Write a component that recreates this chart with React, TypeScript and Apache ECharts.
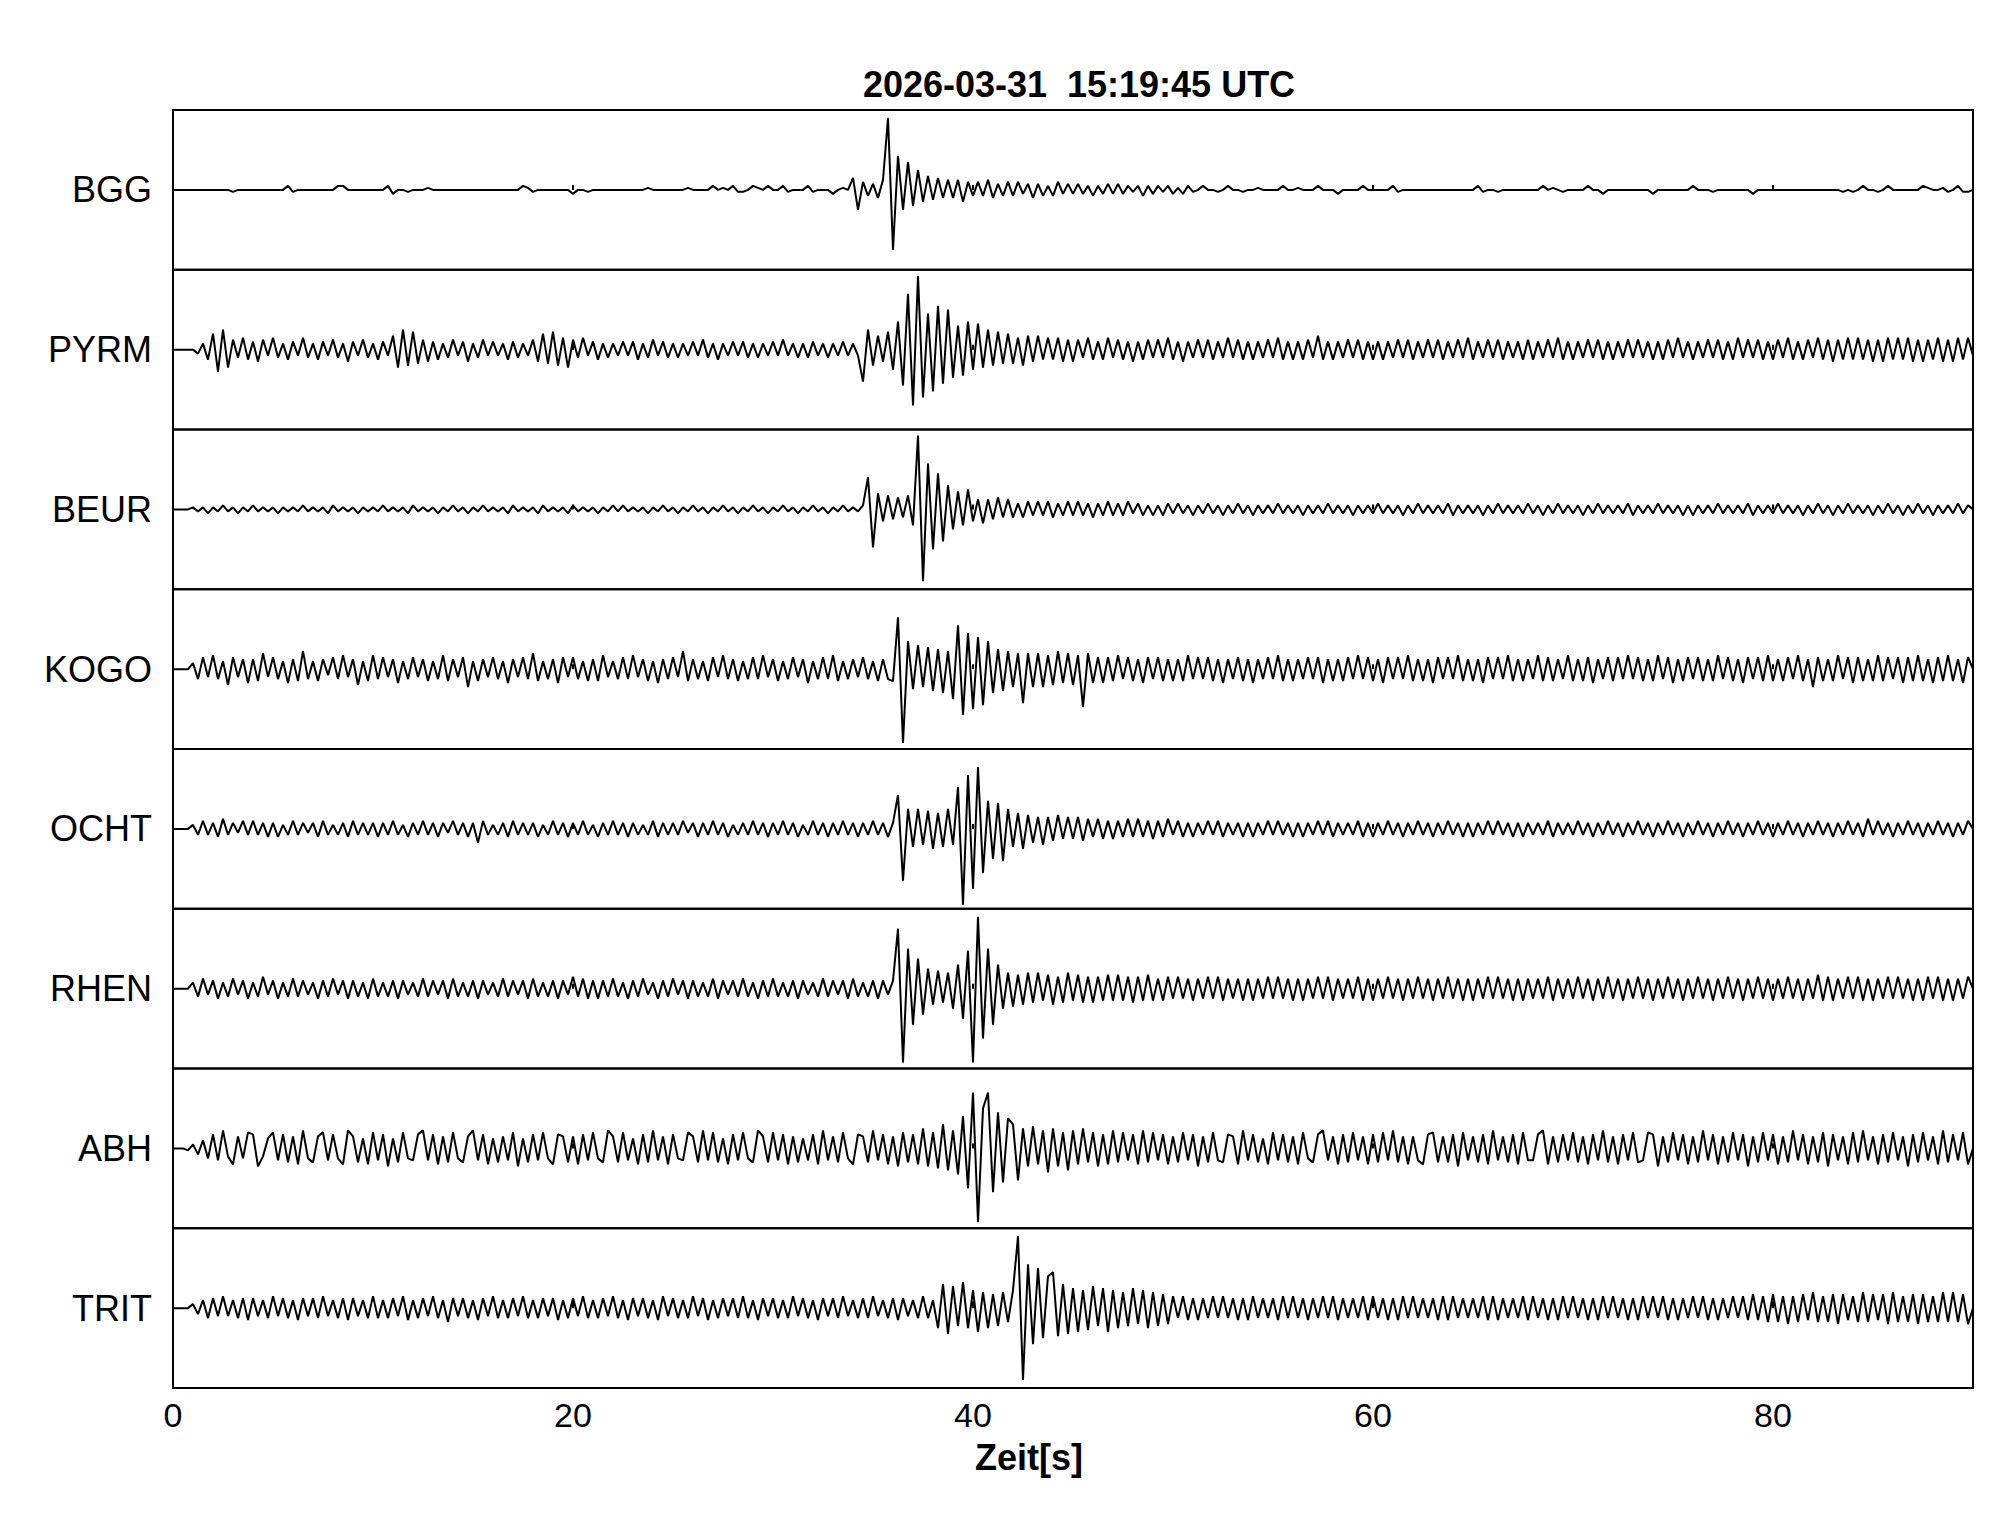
import React, { useEffect, useRef } from "react";
import * as echarts from "echarts";

// Station names (top to bottom)
const STATIONS = ["BGG", "PYRM", "BEUR", "KOGO", "OCHT", "RHEN", "ABH", "TRIT"];
const TITLE = "2026-03-31\u00a0\u00a015:19:45 UTC";
const X_NAME = "Zeit[s]";
const X_MIN = 0;
const X_MAX = 90;
const X_STEP = 20;
// seconds between samples of the traces below
const SAMPLE_STEP = 0.25;

// Trace amplitudes (relative units, panel half-height = 40), one sample every 0.25 s
const BGG = [
  0,0,0,0, 0,0,0,0, 0,0,0,0, -1,0,0,0, 0,0,0,0, 0,0,0,2, -1,0,0,0, 0,0,0,0, 0,2,2,0, 0,0,0,0,
  0,0,0,2, -2,0,0,-1, 0,0,0,1, 0,0,0,0, 0,0,0,0, 0,0,0,0, 0,0,0,0, 0,0,2,1, -1,0,0,0, 0,0,0,0,
  -2,0,0,-1, 0,0,0,0, 0,0,0,0, 0,0,0,1, 0,0,0,0, 0,0,0,1, 0,0,0,0, 2,0,1,0, 2,-1,-1,0, 2,1,0,2,
  0,0,2,-1, 0,0,0,2, -1,0,0,0, -2,0,1,0, 6,-10,4,-3, 3,-4,5,36, -30,17,-10,14, -8,10,-6,7, -5,6,-4,5, -4,5,-6,4,
  -3,4,-3,5, -4,3,-3,4, -3,4,-2,3, -4,3,-3,2, -3,4,-2,3, -2,3,-2,2, -3,2,-2,3, -2,3,-2,2, -1,2,-3,2, -2,2,-1,2,
  -2,1,-2,2, -1,0,2,0, 0,-1,0,2, 0,0,-1,0, 0,1,0,0, 0,0,2,0, 0,1,0,0, 0,2,0,0, 0,-2,0,0, 0,0,2,0,
  0,0,0,0, 2,-1,0,0, 0,0,0,0, 0,0,0,0, 0,0,0,0, 0,2,-1,0, 0,-1,0,0, 0,0,0,0, 0,0,2,0, 1,0,-1,0,
  0,0,0,2, 0,0,-2,0, 0,0,0,0, 0,0,0,0, -2,0,0,0, 0,0,0,0, 2,0,0,0, -1,0,0,0, 0,0,0,0, -2,0,0,0,
  0,0,0,0, 0,0,0,0, 0,0,0,0, 0,0,-1,0, -1,0,2,0, 0,-1,0,2, 0,0,0,0, 0,0,2,1, 0,0,1,-1, 0,2,-1,-1,
  0,
];

const PYRM = [
  0,0,0,0, 0,-2,3,-5, 8,-11,10,-9, 5,-4,6,-5, 4,-6,5,-3, 6,-4,3,-5, 4,-3,6,-4, 3,-5,4,-3, 5,-4,3,-6, 4,-3,5,-4,
  3,-5,4,-3, 7,-9,10,-8, 9,-7,5,-6, 4,-5,3,-4, 5,-3,4,-6, 3,-4,5,-3, 4,-3,3,-5, 4,-4,3,-3, 5,-6,8,-7, 9,-8,6,-9,
  5,-4,6,-3, 4,-5,3,-4, 3,-3,4,-3, 4,-5,3,-4, 5,-3,4,-4, 3,-4,3,-3, 4,-3,5,-4, 3,-5,3,-3, 4,-3,4,-4, 3,-4,3,-3,
  4,-3,5,-3, 3,-4,3,-4, 4,-3,3,-4, 3,-3,4,-3, 3,-3,-16,10, -8,7,-6,9, -10,14,-18,28, -28,37,-24,18, -21,22,-17,20, -14,12,-13,14,
  -10,13,-9,10, -8,9,-7,8, -7,6,-8,7, -6,7,-5,6, -5,6,-6,5, -6,5,-4,6, -5,4,-5,6, -4,5,-5,4, -6,4,-5,5, -4,5,-4,6,
  -5,4,-6,4, -4,5,-4,5, -5,4,-4,6, -4,5,-5,4, -5,4,-4,5, -4,6,-5,4, -5,4,-5,5, -4,7,-5,4, -5,4,-4,5, -4,5,-5,4,
  -5,4,-5,4, -4,5,-4,5, -5,4,-4,5, -4,5,-5,4, -4,5,-4,6, -5,4,-4,5, -4,5,-5,4, -4,4,-5,5, -5,4,-4,5, -4,6,-5,4,
  -5,4,-4,5, -4,5,-5,4, -5,4,-4,5, -4,5,-4,4, -5,4,-5,5, -4,6,-4,4, -5,4,-4,5, -4,5,-5,4, -5,6,-4,5, -4,5,-5,4,
  -5,5,-4,6, -5,4,-5,5, -4,6,-5,5, -6,5,-5,6, -5,6,-5,5, -6,5,-6,6, -5,6,-5,6, -6,5,-6,5, -5,6,-6,5, -6,6,-5,6,
  -3,
];

const BEUR = [
  0,0,0,0, 1,-1,1,-2, 1,-1,2,-1, 1,-2,1,-1, 2,-1,1,-1, 1,-2,1,-1, 1,-1,2,-1, 1,-1,1,-2, 2,-1,1,-1, 1,-2,1,-1,
  1,-1,2,-1, 1,-1,1,-2, 2,-1,1,-1, 1,-2,1,-1, 2,-1,1,-2, 1,-1,2,-1, 1,-1,1,-2, 2,-1,1,-1, 1,-2,2,-1, 1,-1,1,-2,
  2,-1,1,-1, 1,-2,1,-1, 2,-1,2,-1, 1,-1,1,-2, 1,-1,2,-1, 1,-2,1,-1, 2,-1,1,-2, 1,-1,2,-1, 1,-2,1,-1, 2,-1,1,-2,
  1,-1,2,-1, 1,-2,1,-1, 2,-1,1,-2, 1,-1,2,-1, 1,-1,2,16, -19,8,-6,7, -5,6,-4,7, -8,37,-36,23, -20,18,-16,12, -10,9,-8,10,
  -6,5,-7,5, -5,6,-4,5, -4,3,-4,4, -3,4,-3,4, -4,3,-3,4, -3,4,-3,3, -4,3,-3,4, -3,3,-3,4, -2,3,-3,2, -3,2,-3,3,
  -2,3,-2,2, -3,2,-2,3, -2,2,-3,2, -2,3,-2,2, -3,2,-2,2, -2,3,-2,2, -2,2,-3,2, -2,2,-2,3, -2,2,-2,2, -3,2,-2,2,
  -2,3,-2,2, -2,2,-3,2, -2,3,-2,2, -2,2,-2,3, -3,2,-2,2, -2,2,-3,2, -2,3,-2,2, -2,2,-2,3, -2,2,-3,2, -2,3,-2,2,
  -2,2,-3,2, -2,3,-2,2, -2,2,-2,3, -3,2,-2,2, -2,3,-2,2, -2,2,-3,2, -3,2,-2,2, -2,3,-2,2, -2,2,-2,3, -3,2,-2,2,
  -2,3,-2,2, -2,2,-3,2, -2,3,-2,2, -3,2,-2,3, -2,2,-2,2, -3,2,-2,3, -2,2,-3,2, -2,3,-2,2, -3,2,-2,2, -2,3,-2,2,
  0,
];

const KOGO = [
  0,0,0,0, 3,-5,6,-4, 7,-5,4,-8, 6,-4,5,-7, 5,-6,8,-4, 6,-5,4,-7, 5,-6,9,-5, 4,-6,5,-3, 6,-5,7,-4, 5,-8,4,-6,
  7,-5,6,-4, 5,-7,4,-5, 6,-4,5,-6, 4,-5,7,-6, 5,-4,6,-9, 4,-6,5,-4, 6,-5,4,-7, 5,-4,6,-5, 8,-6,4,-5, 5,-7,6,-4,
  6,-5,4,-6, 5,-6,7,-4, 4,-5,6,-5, 7,-4,5,-6, 4,-7,5,-5, 6,-4,9,-6, 5,-5,4,-6, 6,-4,7,-5, 5,-6,4,-5, 6,-5,7,-4,
  5,-6,4,-5, 6,-4,5,-7, 4,-5,6,-5, 7,-6,4,-5, 5,-4,6,-5, 4,-6,5,-5, -6,26,-37,14, -10,12,-9,11, -11,10,-12,9, -15,22,-23,18,
  -20,16,-18,14, -12,10,-11,9, -9,8,-17,8, -9,8,-9,7, -8,9,-7,8, -8,7,-19,8, -7,6,-7,6, -6,7,-5,6, -6,5,-7,6, -5,6,-6,5,
  -6,5,-6,7, -5,6,-5,6, -6,5,-7,5, -5,6,-6,5, -7,5,-5,6, -5,7,-6,5, -6,5,-5,6, -5,6,-7,5, -6,5,-6,6, -5,7,-5,6,
  -6,5,-7,6, -5,6,-5,7, -6,5,-6,5, -7,6,-5,6, -5,7,-6,5, -6,5,-7,6, -5,6,-5,7, -6,5,-6,5, -5,7,-6,6, -6,5,-5,7,
  -6,5,-6,6, -7,5,-5,6, -6,6,-5,7, -5,6,-6,5, -6,7,-5,6, -7,5,-6,6, -5,6,-6,5, -6,7,-5,6, -6,5,-7,6, -5,6,-6,7,
  -6,5,-6,6, -5,7,-6,5, -9,6,-6,5, -6,7,-5,6, -7,6,-6,5, -6,7,-6,6, -5,6,-7,6, -6,7,-6,5, -7,6,-6,7, -6,5,-7,6,
  0,
];

const OCHT = [
  0,0,0,0, 2,-3,4,-3, 3,-4,5,-3, 3,-2,4,-3, 4,-3,3,-4, 3,-4,2,-3, 4,-3,3,-2, 3,-4,4,-3, 2,-3,3,-4, 4,-3,3,-3,
  3,-4,3,-3, 4,-3,2,-4, 3,-3,4,-3, 3,-4,3,-2, 4,-3,3,-4, 3,-7,4,-3, 2,-3,3,-4, 4,-3,3,-3, 3,-4,2,-3, 4,-3,3,-4,
  3,-3,4,-3, 2,-4,3,-3, 4,-3,3,-4, 3,-3,2,-3, 4,-4,3,-3, 3,-3,4,-2, 3,-4,3,-3, 4,-3,3,-4, 2,-3,3,-3, 4,-3,3,-4,
  3,-3,4,-3, 3,-4,2,-3, 4,-3,3,-4, 3,-3,4,-3, 3,-4,3,-3, 4,-3,3,-4, 3,17,-26,10, -9,10,-8,9, -10,8,-9,10, -8,21,-38,27,
  -30,31,-22,14, -15,13,-16,10, -9,8,-10,7, -7,6,-8,6, -6,7,-5,6, -5,6,-6,5, -4,5,-5,4, -5,4,-4,5, -4,5,-4,4, -5,4,-4,5,
  -3,4,-4,3, -4,3,-3,4, -3,4,-4,3, -3,3,-4,3, -4,3,-3,4, -3,4,-3,3, -4,3,-4,3, -3,4,-3,4, -4,3,-3,3, -3,4,-4,3,
  -4,3,-3,4, -3,3,-4,3, -3,4,-3,3, -4,3,-3,4, -3,3,-4,3, -4,3,-3,4, -3,4,-3,3, -4,3,-4,3, -3,3,-3,4, -4,3,-3,3,
  -3,4,-3,3, -4,3,-3,4, -3,3,-4,3, -3,4,-3,3, -4,3,-3,4, -3,3,-4,3, -3,4,-3,3, -4,3,-3,4, -3,3,-4,3, -3,4,-3,3,
  -4,3,-3,4, -3,3,-4,3, -3,4,-3,3, -4,3,-3,4, -3,3,-4,5, -3,4,-3,3, -4,3,-3,4, -3,3,-4,3, -3,4,-3,3, -4,3,-3,4,
  0,
];

const RHEN = [
  0,0,0,0, 3,-4,5,-3, 4,-5,3,-4, 5,-3,4,-5, 3,-4,6,-3, 4,-5,3,-4, 5,-4,4,-3, 3,-5,4,-4, 5,-3,4,-5, 4,-4,3,-5,
  5,-4,3,-4, 4,-5,4,-3, 3,-4,5,-4, 4,-3,4,-5, 5,-4,3,-4, 4,-5,4,-3, 3,-4,5,-4, 4,-3,4,-5, 5,-4,3,-4, 4,-5,4,-3,
  6,-4,5,-5, 4,-5,4,-4, 5,-4,3,-5, 4,-4,5,-3, 3,-5,4,-4, 5,-3,4,-5, 4,-4,3,-4, 5,-5,4,-3, 4,-4,5,-4, 3,-5,4,-4,
  5,-4,3,-4, 4,-5,4,-3, 3,-4,5,-4, 4,-3,4,-5, 5,-4,3,-4, 4,-5,4,-3, 4,30,-37,20, -18,15,-13,10, -8,9,-7,8, -10,12,-15,19,
  -37,36,-25,20, -18,12,-10,8, -9,7,-8,8, -7,8,-6,7, -8,6,-7,8, -6,7,-7,6, -7,6,-6,7, -6,7,-6,6, -7,6,-6,7, -6,5,-6,6,
  -5,6,-5,5, -6,5,-5,6, -5,6,-6,5, -5,5,-6,5, -6,5,-5,6, -5,6,-5,5, -6,5,-6,5, -5,6,-5,6, -6,5,-5,5, -5,6,-6,5,
  -6,5,-5,6, -5,5,-6,5, -5,6,-5,5, -6,5,-5,6, -5,5,-6,5, -6,5,-5,6, -5,6,-5,5, -6,5,-6,5, -5,5,-5,6, -6,5,-5,5,
  -5,6,-5,5, -6,5,-5,6, -5,5,-6,5, -5,6,-5,5, -6,5,-5,6, -5,5,-6,5, -5,6,-5,5, -6,5,-5,6, -5,5,-6,5, -5,6,-5,5,
  -6,5,-5,6, -5,5,-6,5, -5,7,-6,6, -6,5,-5,6, -5,6,-6,5, -6,5,-5,6, -5,6,-5,5, -6,5,-6,6, -5,6,-6,5, -6,5,-5,6,
  0,
];

const ABH = [
  0,0,0,-1, 2,-3,4,-5, 7,-6,9,-4, -8,6,-5,8, 7,-9,-4,5, 8,-6,7,-7, 6,-8,9,-5, -7,6,8,-6, 7,-5,-8,9, 6,-7,5,-8,
  8,-6,7,-9, 5,-7,8,-5, -6,7,9,-6, 7,-8,6,-7, 8,-5,-7,6, 9,-6,7,-8, 5,-7,6,-6, 8,-9,5,-7, 7,-6,8,-5, -8,7,6,-7,
  6,-8,7,-6, 8,-5,-7,9, 6,-7,8,-6, 5,-8,7,-7, 9,-6,6,-8, 7,-5,-6,8, 6,-7,9,-6, 8,-7,5,-8, 7,-6,8,-5, -7,9,6,-7,
  8,-6,7,-8, 6,-7,5,-6, 7,-8,9,-6, 6,-7,8,-5, -8,7,6,-7, 9,-6,7,-8, 6,-9,8,-7, 7,-8,10,-9, 8,-10,12,-11, 9,-13,16,-20,
  28,-37,20,28, -22,18,-17,15, 12,-16,10,-9, 11,-8,9,-12, 10,-9,8,-11, 9,-8,10,-7, 8,-9,7,-8, 9,-7,8,-6, 7,-8,9,-7, 8,-6,7,-8,
  6,-7,8,-6, 7,-9,6,-7, 8,-6,-7,7, 6,-8,9,-6, 7,-7,5,-8, 8,-6,7,-7, 6,-8,8,-5, -7,7,9,-6, 6,-8,7,-7, 8,-6,6,-8,
  7,-7,8,-6, 9,-7,6,-8, 6,-6,-8,7, 8,-7,6,-7, 7,-9,8,-6, 6,-7,7,-8, 9,-6,6,-7, 7,-8,8,-6, -6,7,9,-8, 6,-7,7,-6,
  8,-7,6,-8, 7,-6,9,-7, 6,-8,7,-6, 8,-7,-6,8, 7,-9,6,-7, 8,-6,7,-8, 6,-7,9,-6, 7,-8,6,-7, 8,-6,7,-9, 6,-7,8,-6,
  7,-8,6,-7, 9,-6,7,-8, 6,-7,8,-9, 7,-6,6,-8, 8,-7,9,-6, 6,-8,7,-7, 8,-6,6,-9, 7,-7,8,-6, 6,-8,9,-7, 7,-6,8,-8,
  0,
];

const TRIT = [
  0,0,0,0, 2,-3,4,-5, 5,-4,6,-4, 4,-5,5,-6, 5,-4,4,-5, 6,-4,5,-5, 4,-6,5,-4, 5,-5,6,-4, 4,-5,5,-6, 5,-4,4,-5,
  6,-5,4,-5, 5,-4,6,-6, 4,-5,5,-4, 6,-5,4,-7, 5,-4,5,-5, 4,-6,5,-4, 6,-5,4,-5, 5,-4,6,-5, 4,-5,5,-4, 5,-6,4,-5,
  5,-4,6,-5, 4,-5,5,-4, 6,-5,4,-6, 5,-4,5,-5, 4,-6,6,-4, 5,-5,4,-5, 6,-4,5,-6, 4,-5,5,-4, 5,-5,6,-5, 4,-6,5,-4,
  5,-5,4,-5, 6,-4,5,-5, 4,-6,5,-4, 5,-5,6,-4, 4,-5,5,-5, 6,-4,4,-5, 5,-6,5,-4, 4,-5,6,-5, 4,-10,12,-13, 11,-9,13,-10,
  9,-12,8,-10, 7,-9,8,-7, 9,36,-36,22, -18,20,-15,16, 18,-14,12,-13, 10,-12,9,-11, 11,-9,10,-12, 9,-10,8,-9, 10,-8,9,-10, 8,-9,7,-8,
  6,-5,6,-6, 5,-6,5,-5, 6,-5,6,-5, 5,-6,5,-6, 6,-5,5,-5, 5,-6,6,-5, 6,-5,5,-6, 5,-5,6,-5, 6,-6,5,-5, 5,-5,6,-6,
  6,-5,5,-6, 5,-6,6,-5, 6,-5,5,-5, 5,-6,6,-6, 6,-5,5,-5, 5,-5,6,-6, 6,-6,5,-5, 5,-5,6,-6, 6,-5,5,-6, 5,-6,6,-5,
  6,-5,5,-6, 5,-6,6,-5, 6,-5,5,-6, 5,-6,6,-5, 6,-5,6,-6, 5,-6,5,-5, 6,-5,6,-6, 5,-6,5,-5, 6,-5,6,-6, 7,-6,6,-7,
  7,-7,6,-8, 6,-7,7,-6, 8,-7,6,-7, 7,-8,7,-6, 6,-7,8,-7, 7,-6,7,-8, 8,-7,6,-7, 7,-8,7,-7, 6,-7,8,-7, 8,-7,7,-8,
  0,
];

const TRACES = [BGG, PYRM, BEUR, KOGO, OCHT, RHEN, ABH, TRIT];

const FONT = "'Liberation Sans', Arial, Helvetica, sans-serif";

export default function App() {
  const ref = useRef<HTMLDivElement>(null);

  useEffect(() => {
    document.body.style.margin = "0";
    const el = ref.current;
    if (!el) return;
    const chart = echarts.init(el, null, { renderer: "svg" });

    const left = 173;
    const right = 1973;
    const top0 = 110;
    const bottom = 1388;
    const n = STATIONS.length;
    const ph = (bottom - top0) / n;
    const last = n - 1;

    const grids = STATIONS.map((_, k) => ({
      left,
      width: right - left,
      top: top0 + k * ph,
      height: ph,
      show: true,
      borderColor: "#000",
      borderWidth: 2,
      backgroundColor: "transparent",
      containLabel: false,
    }));

    const xAxes = STATIONS.map((_, k) => ({
      type: "value",
      gridIndex: k,
      min: X_MIN,
      max: X_MAX,
      interval: X_STEP,
      axisLine: { show: false },
      axisTick: {
        show: true,
        inside: true,
        length: k === last ? 7 : 5,
        lineStyle: { color: "#000", width: 2 },
      },
      axisLabel: {
        show: k === last,
        fontSize: 34,
        color: "#000",
        fontFamily: FONT,
        margin: 10,
        showMaxLabel: false,
      },
      splitLine: { show: false },
    }));

    const yAxes = STATIONS.map((_, k) => ({
      type: "value",
      gridIndex: k,
      min: -40,
      max: 40,
      show: false,
      splitLine: { show: false },
    }));

    const series = TRACES.map((arr, k) => ({
      type: "line",
      name: STATIONS[k],
      xAxisIndex: k,
      yAxisIndex: k,
      data: arr.map((v, i) => [i * SAMPLE_STEP, v]),
      showSymbol: false,
      symbol: "none",
      silent: true,
      lineStyle: { color: "#000", width: 2 },
    }));

    const labels = STATIONS.map((s, k) => ({
      type: "text",
      x: 152,
      y: top0 + k * ph + ph / 2,
      silent: true,
      style: {
        text: s,
        fill: "#000",
        fontSize: 36,
        fontFamily: FONT,
        textAlign: "right",
        align: "right",
        textVerticalAlign: "middle",
        verticalAlign: "middle",
      },
    }));

    chart.setOption({
      animation: false,
      backgroundColor: "#fff",
      grid: grids,
      xAxis: xAxes,
      yAxis: yAxes,
      series,
      graphic: [
        ...labels,
        {
          type: "text",
          x: 1079,
          y: 84,
          silent: true,
          style: {
            text: TITLE,
            fill: "#000",
            fontSize: 36,
            fontWeight: "bold",
            fontFamily: FONT,
            textAlign: "center",
            align: "center",
            textVerticalAlign: "middle",
            verticalAlign: "middle",
          },
        },
        {
          type: "text",
          x: 1029,
          y: 1457,
          silent: true,
          style: {
            text: X_NAME,
            fill: "#000",
            fontSize: 36,
            fontWeight: "bold",
            fontFamily: FONT,
            textAlign: "center",
            align: "center",
            textVerticalAlign: "middle",
            verticalAlign: "middle",
          },
        },
      ],
    });

    return () => {
      chart.dispose();
    };
  }, []);

  return <div ref={ref} style={{ width: 2005, height: 1522 }} />;
}
